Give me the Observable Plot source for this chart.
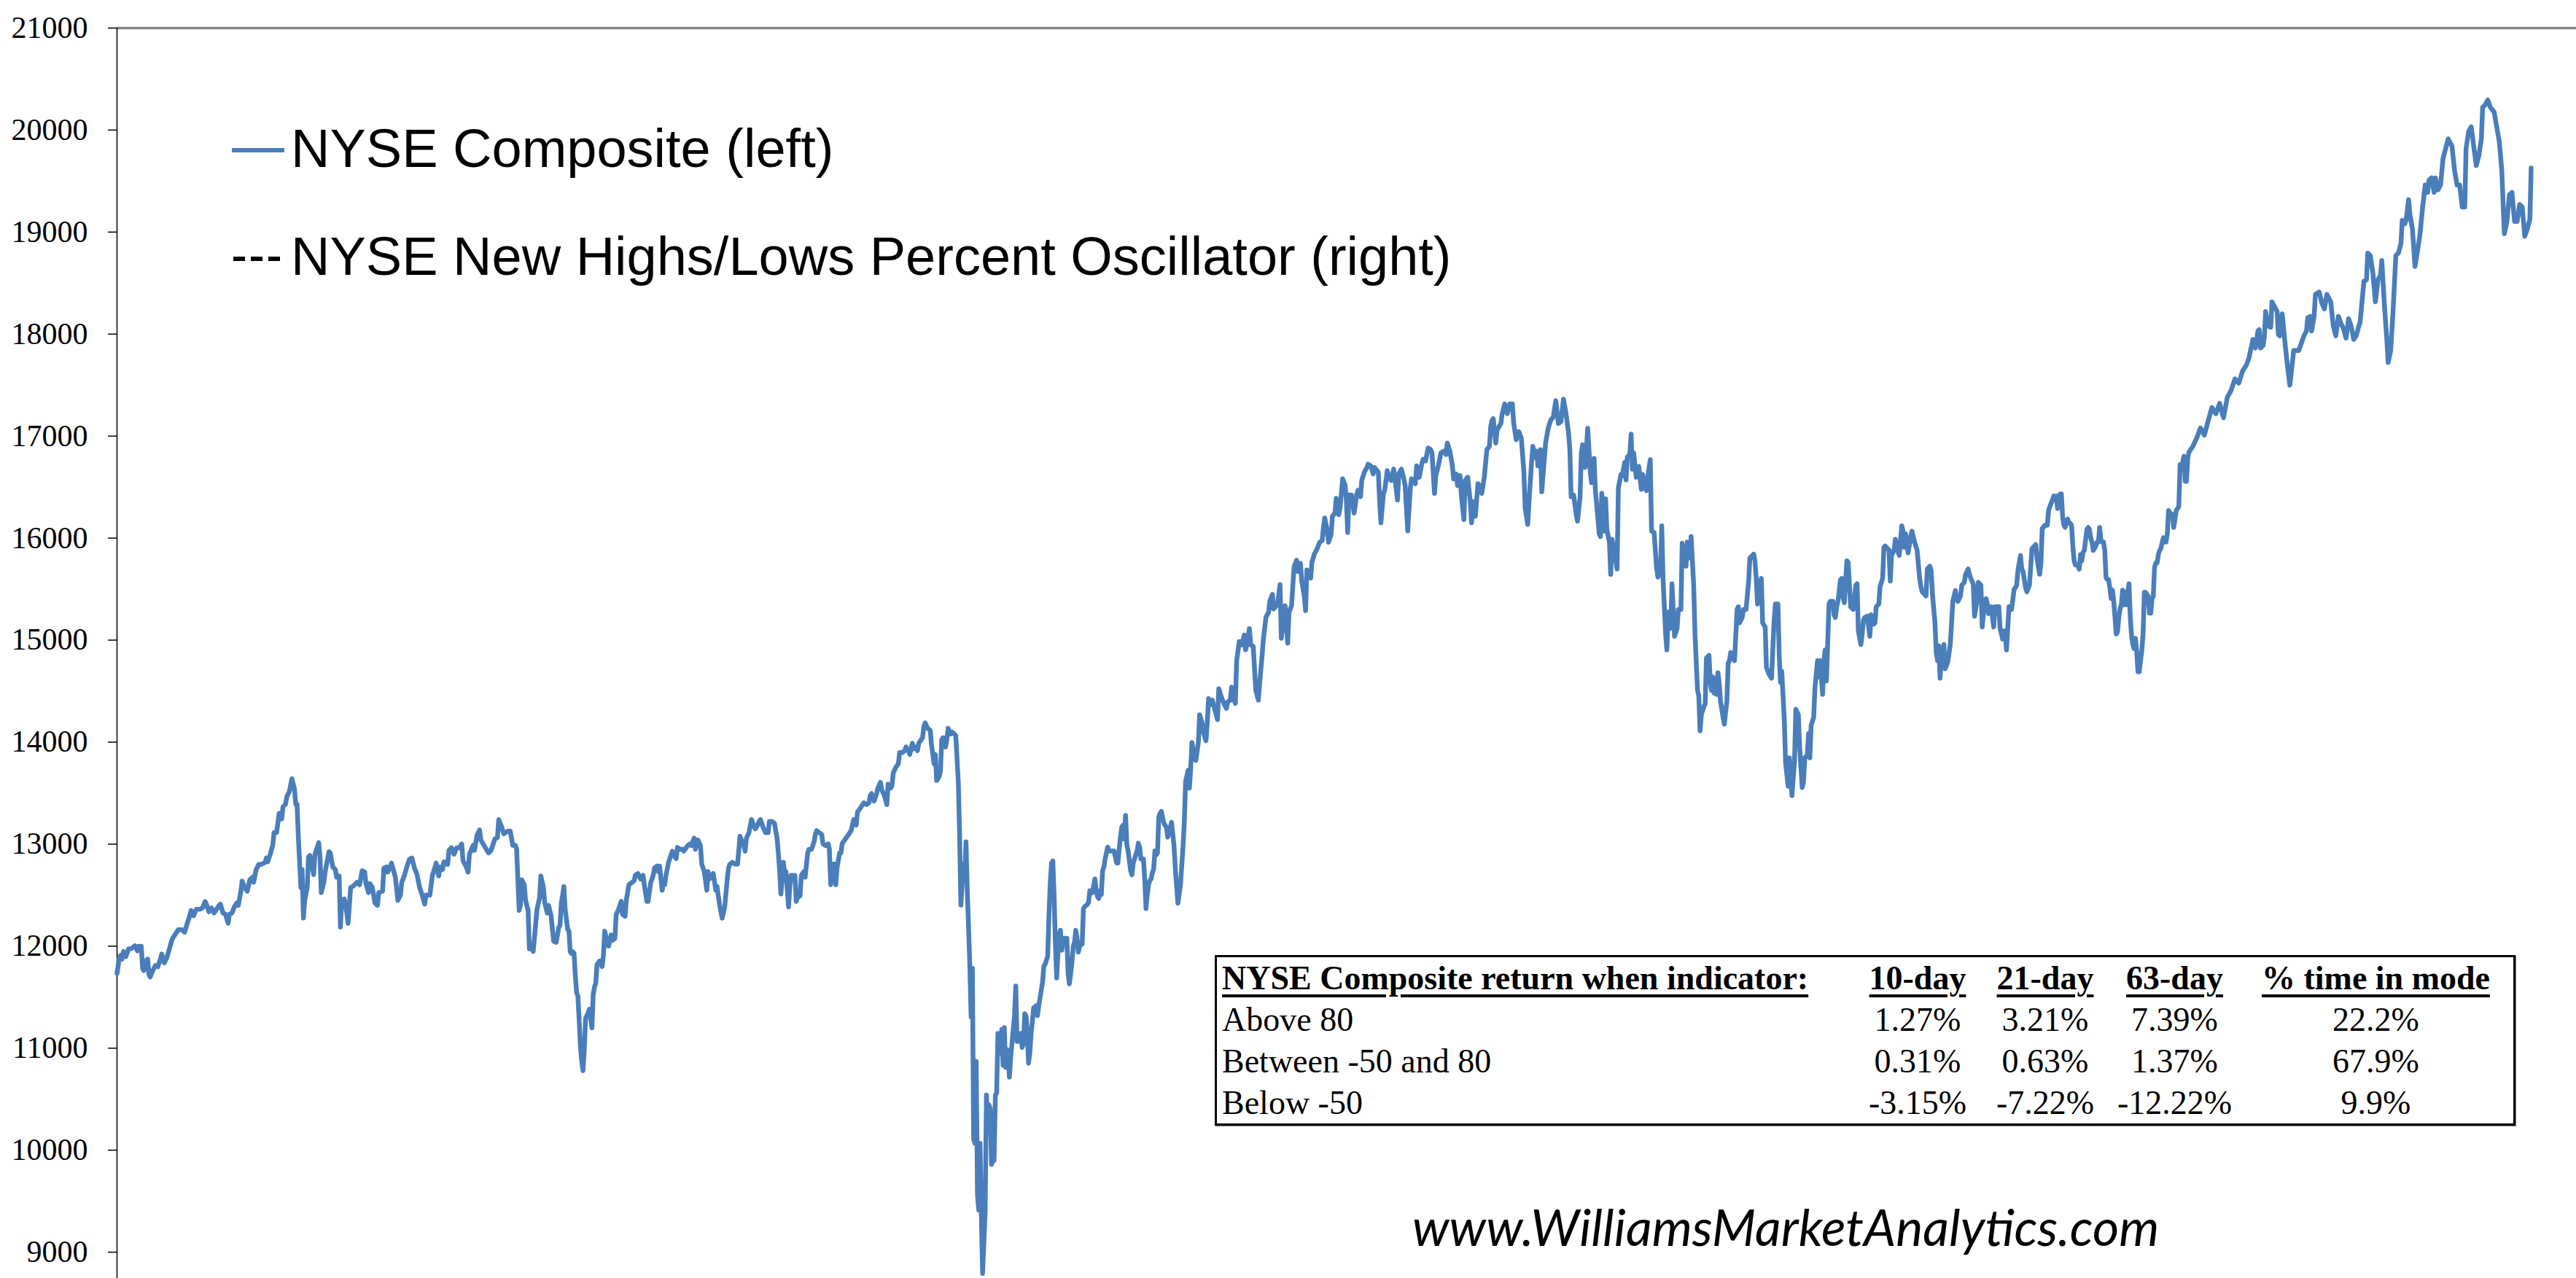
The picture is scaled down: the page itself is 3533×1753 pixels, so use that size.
<!DOCTYPE html>
<html><head><meta charset="utf-8">
<script src="https://cdn.jsdelivr.net/npm/d3@7"></script>
<script src="https://cdn.jsdelivr.net/npm/@observablehq/plot@0.6"></script>
<style>
html,body{margin:0;padding:0;background:#fff;}
#wrap{position:relative;width:3533px;height:1753px;overflow:hidden;background:#fff;}
.leg{position:absolute;left:399px;font-family:"Liberation Sans",Arial,sans-serif;font-size:74px;line-height:74px;color:#000;white-space:nowrap;}
.sw{position:absolute;left:318px;}
#tbl{position:absolute;left:1666px;top:1310px;border:3px solid #000;background:#fff;box-shadow:1px 1px 0 #777;}
#tbl table{border-collapse:collapse;table-layout:fixed;font-family:"Liberation Serif","Times New Roman",serif;font-size:46px;color:#000;}
#tbl td{padding:0;height:57px;line-height:57px;white-space:nowrap;text-align:center;}
#tbl td.first{text-align:left;padding-left:7px;}
#tbl tr.head td{font-weight:bold;}
#tbl tr.head span{text-decoration:underline;text-decoration-thickness:4px;text-underline-offset:7px;}
#wm{position:absolute;left:1937px;top:1642px;font-family:Lato,"Open Sans",sans-serif;font-style:italic;font-size:70px;line-height:80px;color:#000;white-space:nowrap;}
</style></head>
<body><div id="wrap"></div>
<script>
// trading-session index (x) and NYSE Composite close (left axis)
const session = [
0,2,3,4,5,7,9,11,14,16,
17,19,20,21,22,24,25,26,28,30,
32,34,35,37,39,41,43,44,46,48,
51,53,55,57,58,60,62,65,67,69,
70,72,74,76,78,80,81,83,85,87,
88,90,92,94,95,97,98,100,102,104,
106,107,109,111,113,116,117,118,120,122,
123,125,127,128,129,130,132,133,135,137,
139,140,141,142,144,145,146,147,149,150,
151,153,154,155,158,159,160,162,163,166,
167,169,171,172,174,175,176,178,180,181,
183,185,188,190,192,194,195,197,198,200,
202,204,205,208,209,211,212,213,215,218,
220,222,223,225,227,229,231,233,235,237,
239,241,242,245,247,250,252,253,255,256,
259,260,262,264,266,268,270,271,274,275,
276,279,280,282,284,285,288,291,293,296,
298,299,301,303,306,308,310,312,313,315,
316,317,319,320,322,323,324,326,328,329,
331,332,334,335,337,338,340,342,
344,346,347,348,349,350,351,353,354,355,
356,357,358,359,360,361,362,363,364,365,
366,367,369,370,372,373,374,375,376,378,
380,381,382,384,385,387,388,390,391,393,
395,396,398,399,401,403,405,406,408,410,
412,413,415,416,418,420,421,423,424,425,
427,428,429,430,432,433,435,437,438,439,
441,443,444,447,449,450,452,453,455,457,
458,459,460,462,463,464,466,467,469,470,
471,472,474,475,476,478,479,480,482,484,
486,487,488,489,491,492,493,495,497,498,
500,501,503,504,506,508,510,511,513,515,
517,518,519,520,521,522,523,524,526,527,
528,529,531,532,533,535,536,538,539,541,
542,544,546,547,548,550,552,553,555,557,
558,559,561,562,563,564,566,567,568,570,
571,573,575,576,577,579,580,582,584,585,
587,589,590,591,593,595,596,598,599,601,
603,604,606,607,608,610,612,613,615,617,
618,620,621,623,624,626,627,628,630,631,
632,633,635,637,638,640,641,642,644,645,
646,647,649,650,651,653,654,656,657,659,
660,661,663,664,665,666,668,669,670,671,
672,673,674,675,676,677,678,
680,681,682,683,684,685,686,687,688,689,
690,691,692,693,694,695,696,697,698,699,
700,701,702,703,704,705,706,707,708,709,
710,711,712,713,714,715,716,717,718,719,
720,721,722,723,724,725,726,727,728,729,
730,731,732,733,734,735,736,737,738,739,
740,741,742,744,745,746,747,748,749,750,
751,752,753,754,755,756,757,758,760,761,
762,764,766,767,768,769,770,771,772,773,
774,776,777,779,781,782,783,784,785,786,
787,788,789,790,791,792,793,794,795,796,
797,799,800,801,802,803,804,805,806,807,
808,809,810,811,812,813,814,815,816,817,
818,820,821,822,823,
824,826,828,829,831,833,835,836,837,839,
840,841,842,844,845,847,848,850,851,853,
854,855,856,858,860,862,863,865,867,869,
870,872,873,874,876,877,879,881,883,884,
885,887,888,890,892,894,895,897,898,900,
902,903,905,906,909,911,912,915,917,918,
920,921,922,924,925,927,928,930,931,932,
933,935,936,938,940,942,944,945,946,948,
949,951,952,954,955,957,958,960,962,963,
964,965,967,969,971,972,974,975,977,979,
980,982,984,985,988,989,990,992,993,995,
996,998,1000,1001,1003,1004,1006,1008,1009,1011,
1013,1014,1017,1018,1020,1022,1023,1025,1027,1029,
1030,1032,1033,1035,1037,1039,1041,1042,1044,1046,
1047,1049,1050,1052,1053,1055,1056,1058,1060,1061,
1062,1064,1066,1067,1069,1071,1073,1075,1076,1077,
1078,1080,1081,1084,1085,1087,1089,1091,1093,1094,
1096,1098,1100,1102,1103,1105,1106,1108,1109,1111,
1112,1113,1115,1116,1118,1119,1121,1123,1125,1127,
1129,1131,1133,1135,1137,1138,1139,1141,1143,1144,
1146,1147,1148,1150,1152,1154,
1155,1157,1158,1159,1161,1162,1163,1165,1166,1167,
1169,1170,1171,1173,1175,1176,1178,1179,1181,1182,
1183,1185,1186,1187,1188,1190,1192,1194,1195,1197,
1198,1199,1201,1202,1204,1206,1207,1209,1210,1211,
1213,1214,1215,1217,1218,1220,1222,1223,1225,1226,
1227,1229,1230,1232,1233,1235,1236,1238,1239,1240,
1241,1243,1244,1245,1247,1248,1249,1250,1251,1253,
1254,1255,1256,1258,1259,1261,1262,1263,1264,1266,
1267,1269,1270,1271,1273,1274,1276,1278,1279,1280,
1282,1283,1284,1285,1287,1288,1289,1291,1292,1294,
1296,1298,1299,1301,1302,1303,1304,1306,1307,1309,
1310,1312,1314,1315,1317,1318,1320,1321,1322,1324,
1325,1326,1327,1329,1330,1332,1333,1334,1336,1337,
1338,1339,1341,1342,1344,1345,1346,1347,1348,1350,
1351,1352,1353,1355,1356,1357,1358,1360,1362,1363,
1364,1366,1367,1368,1369,1371,1373,1374,1376,1377,
1378,1380,1381,1382,1383,1384,1385,1387,1388,1389,
1390,1392,1393,1395,1396,1398,1399,1400,1401,1403,
1405,1406,1408,1410,1412,1413,1414,1415,1417,1418,
1420,1421,1422,1424,1425,1426,1427,1428,1429,1431,
1432,1434,1436,1437,1438,1440,1441,1442,1444,1445,
1447,1448,1450,1451,1452,1454,1455,1457,1458,1460,
1461,1463,1464,1465,1466,1468,1470,1471,1472,1474,
1475,1477,1478,1479,1480,1482,1483,1484,1486,1487,
1488,1489,1491,1492,1493,1495,1496,1498,1500,1501,
1503,1504,1506,1507,1508,
1509,1510,1512,1513,1514,1516,1517,1518,1519,1520,
1521,1522,1523,1524,1525,1526,1527,1528,1529,1530,
1531,1532,1533,1534,1536,1537,1538,1539,1540,1541,
1542,1543,1544,1545,1546,1547,1548,1549,1550,1551,
1552,1553,1554,1555,1556,1557,1558,1559,1560,1561,
1562,1563,1564,1565,1566,1567,1568,1569,1570,1571,
1572,1573,1574,1575,1576,1577,1578,1579,1580,1581,
1582,1583,1584,1585,1586,1587,1588,1589,1590,1591,
1592,1593,1594,1595,1596,1597,1598,1599,1600,1601,
1602,1603,1604,1605,1606,1607,1608,1610,1611,1612,
1613,1614,1615,1616,1617,1618,1619,1620,1621,1622,
1623,
1626,1629,1632,1635,1638,1641,1644,1647,1650,1653,
1656,1659,1662,1665,
1668,1670,1673,1675,1677,1678,1679,1681,1682,1683,
1685,1687,1688,1690,1692,1693,1694,1696,1698,1700,
1702,1705,1709,1711,1713,1715,1716,1718,1719,1721,
1722,1725,1727,1729,1731,1734,1736,1738,1740,1742,
1744,1746,1748,1750,1752,1754,1756,1757,1760,1762,
1763,1765,1767,1769,1771,1773,1774,1776,1778,1779,
1781,1783,1785,1787,1789,1790,1792,1793,1795,1796,
1798,1800,1802,1804,1806,1808,1810,1811,1813,1815,
1816,1818,1820,1822,1824,1826,1829,1831,1833,1835,
1837,1839,1840,1842,1844,1846,1848,1850,1852,1853,
1855,1857,1859,1862,1864,1866,1868,1870,1872,1874,
1876,1878,1880,1882,1884,1886,1888,1890,1891
];
const nyse = [
11735,11898,11911,11873,11948,11898,11973,11973,12004,11953,
11999,11999,11785,11760,11848,11873,11723,11698,11760,11810,
11798,11873,11923,11836,11886,11973,12061,12086,12124,12162,
12162,12137,12224,12299,12350,12299,12362,12362,12375,12437,
12412,12337,12375,12325,12362,12400,12412,12325,12312,12224,
12312,12325,12387,12425,12400,12538,12638,12575,12538,12650,
12676,12626,12751,12801,12801,12821,12864,12826,12901,12989,
13114,13114,13302,13302,13247,13365,13390,13466,13516,13641,
13541,13390,13390,13077,12575,12751,12275,12450,12575,12876,
12889,12776,12701,12901,13014,12876,12525,12626,12726,12926,
12914,12776,12751,12676,12688,12187,12450,12462,12325,12224,
12575,12588,12626,12601,12739,12726,12613,12525,12613,12575,
12425,12400,12525,12538,12764,12776,12726,12751,12814,12676,
12450,12500,12626,12688,12776,12851,12864,12764,12701,12575,
12500,12412,12500,12500,12688,12814,12688,12776,12751,12826,
12801,12939,12964,12901,12964,12964,13002,12839,12764,12726,
12901,12989,12939,13089,13139,13039,12977,12914,12939,13052,
13064,13240,13177,13102,13127,13127,12989,12989,12951,12350,
12400,12651,12601,12450,12350,11973,12011,11948,12224,12362,
12475,12688,12575,12425,12325,12400,12299,12049,
12037,12183,12202,12420,12493,12585,12366,12165,12147,11946,
11928,11946,11928,11709,11545,11509,11272,11016,10870,10779,
10980,11290,11345,11381,11199,11527,11600,11637,11819,11855,
11800,11910,12147,12037,12001,12110,12056,12074,12311,12366,
12439,12311,12293,12457,12603,12621,12640,12694,12712,12658,
12694,12603,12439,12439,12621,12694,12767,12785,12731,12785,
12548,12621,12603,12694,12822,12858,12931,12877,12858,12968,
12950,12950,12931,12986,13004,12986,13059,12950,13041,12986,
12804,12767,12731,12548,12731,12658,12694,12712,12548,12585,
12493,12402,12274,12329,12384,12658,12767,12804,12822,12804,
12804,12931,13077,13041,12986,12931,13059,13113,13241,13204,
13150,13168,13223,13241,13168,13113,13113,13223,13223,13204,
13059,12913,12749,12512,12658,12822,12694,12731,12384,12585,
12694,12694,12694,12439,12475,12493,12694,12731,12676,12913,
12950,12950,13022,13095,13132,13113,13095,13004,12986,13004,
12950,12603,12804,12804,12603,12767,12913,12913,13004,13041,
13059,13095,13132,13186,13241,13186,13314,13350,13387,13405,
13387,13405,13478,13496,13423,13496,13551,13606,13533,13478,
13387,13588,13551,13569,13697,13752,13788,13897,13897,13916,
13952,13916,13879,13989,13934,13952,13916,13989,14025,14044,
14153,14189,14135,14116,13970,13788,13879,13624,13661,13715,
14025,14044,13952,14025,14135,14080,14098,14080,14062,13606,
13095,12402,12804,12658,13022,12548,11819,11308,11782,10105,
10068,10870,9558,9412,10068,9375,8792,
9393,10541,10191,10444,10405,9860,9899,9899,10541,10560,
11144,11124,10949,11183,10832,11202,10813,10988,10910,10716,
10910,11046,11183,11319,11610,11066,11124,11066,11144,11007,
11046,11338,11319,11163,10852,10949,11144,11261,11397,11338,
11416,11319,11416,11493,11571,11649,11805,11824,11863,11902,
12310,12621,12816,12835,12505,12038,11688,11922,12116,12155,
11960,12038,12077,12077,11727,11630,11727,11844,11999,12038,
12155,12077,11941,11999,12038,12019,12369,12388,12408,12427,
12544,12524,12660,12544,12486,12466,12544,12505,12738,12777,
12855,12971,12933,12933,12933,12874,12816,12816,12952,13069,
13166,13185,13049,13282,12991,12933,12835,12738,12699,12816,
12855,12933,13010,12971,12855,12855,12855,12660,12369,12505,
12602,12641,12660,12719,12758,12933,12894,12913,13263,13302,
13321,13205,13185,13166,13069,
13103,13215,12975,12750,12420,12600,12975,13215,13613,13725,
13550,13741,13996,13837,13821,13996,14268,14188,14093,14013,
14188,14427,14363,14411,14316,14220,14523,14443,14379,14331,
14395,14411,14539,14443,14379,14794,14986,14954,15049,14906,
14954,15113,14954,14938,14507,14411,14571,14858,15018,15225,
15273,15384,15448,15305,15353,15544,15018,15337,14970,15273,
15337,15528,15720,15783,15672,15752,15576,15432,15289,15688,
15624,15608,15767,15847,15895,15959,15975,16103,16198,16071,
15959,16039,16214,16246,16390,16230,16294,16581,16517,16358,
16055,16422,16422,16246,16422,16469,16406,16565,16645,16693,
16725,16709,16629,16693,16645,16358,16150,16438,16469,16661,
16597,16565,16677,16581,16374,16629,16677,16581,16517,16071,
16485,16581,16533,16709,16597,16725,16773,16757,16884,16868,
16836,16438,16613,16709,16836,16852,16820,16932,16852,16709,
16581,16629,16517,16613,16422,16182,16565,16597,16358,16150,
16358,16214,16533,16517,16438,16597,16868,16900,17092,17155,
17171,16932,17060,17124,17219,17315,17219,17315,17315,17124,
16964,17044,16980,16645,16294,16135,16358,16741,16900,16789,
16852,16709,16868,16454,16773,16932,17076,17155,17188,17347,
17124,17140,17363,17219,17028,16868,16406,16422,16230,16166,
16406,16836,16916,16693,17076,16645,
16544,16782,16465,16333,16042,16015,16438,16068,16385,16081,
15962,15645,15989,15856,15698,16491,16624,16610,16743,16571,
16795,16822,17020,16676,16835,16597,16703,16478,16624,16491,
16465,16597,16769,16068,16055,15698,15618,15671,16121,15605,
15063,14904,15275,15116,15552,15037,15116,15301,15301,15949,
15804,15724,15962,15804,16015,15539,15063,14508,14455,14111,
14269,14349,14375,14825,14851,14587,14508,14640,14481,14468,
14680,14574,14402,14243,14177,14402,14772,14799,14878,14825,
14799,15301,15327,15169,15222,15301,15301,15566,15804,15817,
15843,15777,15605,15354,15539,15605,15169,15129,14732,14666,
14627,15195,15354,15354,14851,14587,14693,14217,13793,13568,
13846,13476,13820,14322,14269,13952,13555,13608,13846,13873,
14084,13846,14164,14243,14534,14798,14640,14798,14468,14798,
14904,14600,15354,15380,15380,15248,15222,15327,15380,15592,
15605,15420,15367,15777,15764,15539,15327,15301,15539,15552,
15089,14957,15063,15195,15222,15235,15037,15248,15156,15169,
15327,15354,15526,15565,15605,15909,15923,15896,15883,15579,
15830,15883,15989,15870,15830,16121,16068,15909,16042,15856,
16015,16068,15962,15883,15605,15526,15473,15460,15433,15698,
15724,15684,15460,15169,14878,14799,14944,14626,14798,14957,
14719,14785,14957,15169,15380,15486,15394,15380,15433,15539,
15566,15645,15698,15645,15605,15552,15235,15394,15566,15539,
15129,15393,15407,15354,15261,15327,15129,15327,15327,15327,
15116,15010,15089,15089,14904,15327,15301,15301,15500,15513,
15539,15685,15830,15698,15671,15513,15473,15539,15896,15909,
15936,15790,15645,15751,16094,
16105,16126,16126,16270,16310,16372,16413,16393,16413,16290,
16372,16434,16434,16208,16126,16105,16167,16187,16146,16146,
16126,15921,15777,15736,15736,15695,15838,15777,15859,15880,
15982,16085,16105,16085,16003,15962,15880,15900,15921,15962,
15962,16105,15982,15962,15962,15880,15613,15593,15593,15511,
15408,15490,15388,15223,15059,15080,15223,15305,15347,15490,
15347,15470,15347,15470,15552,15223,15039,14957,14916,15018,
14895,14690,14690,14793,14895,15059,15469,15469,15449,15429,
15264,15264,15408,15429,15716,15757,15757,15839,15880,15900,
15962,16003,15962,15962,16044,16270,16249,16229,16105,16187,
16270,16290,16311,16721,16721,16741,16803,16557,16557,16782,
16844,
16900,16980,17080,17010,17150,17280,17220,17320,17180,17380,
17450,17560,17520,17640,
17698,17769,17948,17864,18031,18043,17864,17888,17972,18222,
18079,18067,18317,18269,18222,17995,17983,18198,17936,17698,
17500,17840,17840,17912,17983,18031,18162,18174,18031,18174,
18389,18412,18305,18246,18389,18317,18079,17983,18174,18103,
18055,17960,18150,18079,17948,17983,18079,18114,18519,18531,
18794,18770,18603,18317,18531,18579,18722,18293,17936,17721,
17840,18269,18770,18794,18889,19115,19080,19115,19318,19175,
19032,18663,18817,18984,19246,19461,19389,19509,19532,19389,
19532,19413,19461,19723,19818,19914,19842,19604,19461,19461,
19246,19246,19818,19985,20033,19842,19652,19747,19914,20224,
20247,20295,20224,20176,20033,19890,19604,18984,19104,19366,
19389,19104,19104,19270,19246,18960,19032,19127,19628
];
const yTicks = [9000,10000,11000,12000,13000,14000,15000,16000,17000,18000,19000,20000,21000];
const legendLabels = ["NYSE Composite (left)", "NYSE New Highs/Lows Percent Oscillator (right)"];
const tableHeader = ["NYSE Composite return when indicator:", "10-day", "21-day", "63-day", "% time in mode"];
const tableRows = [
  ["Above 80", "1.27%", "3.21%", "7.39%", "22.2%"],
  ["Between -50 and 80", "0.31%", "0.63%", "1.37%", "67.9%"],
  ["Below -50", "-3.15%", "-7.22%", "-12.22%", "9.9%"]
];
const watermark = "www.WilliamsMarketAnalytics.com";

if (session.length !== nyse.length) console.error("length mismatch", session.length, nyse.length);
const rows = session.map((s, i) => ({session: s, value: nyse[i]}));
const lineColor = "#4A7EBB";

const chart = Plot.plot({
  width: 3533, height: 1753,
  marginLeft: 160, marginRight: 0, marginTop: 38, marginBottom: 0,
  style: {fontFamily: '"Liberation Serif","Times New Roman",serif', fontSize: "42px", color: "#000", background: "#fff", overflow: "hidden"},
  x: {domain: [0, 1891], range: [160, 3471], axis: null},
  y: {domain: [8000, 21000], range: [1857, 38], axis: null},
  marks: [
    Plot.ruleY([21000], {stroke: "#868686", strokeWidth: 3.5}),
    Plot.ruleX([0], {stroke: "#000", strokeWidth: 1.5}),
    Plot.axisY({ticks: yTicks, tickSize: 12, tickPadding: 28, tickFormat: d3.format("d"), label: null, strokeWidth: 1.5}),
    Plot.line(rows, {x: "session", y: "value", stroke: lineColor, strokeWidth: 6.5})
  ]
});
const wrap = document.getElementById("wrap");
wrap.appendChild(chart);

// legend
const sw1 = document.createElementNS("http://www.w3.org/2000/svg", "svg");
sw1.setAttribute("class", "sw"); sw1.setAttribute("width", 74); sw1.setAttribute("height", 20);
sw1.style.top = "196px";
sw1.innerHTML = `<line x1="0" y1="10" x2="72" y2="10" stroke="${lineColor}" stroke-width="6"/>`;
wrap.appendChild(sw1);
const sw2 = document.createElementNS("http://www.w3.org/2000/svg", "svg");
sw2.setAttribute("class", "sw"); sw2.setAttribute("width", 74); sw2.setAttribute("height", 20);
sw2.style.top = "345px";
sw2.innerHTML = `<line x1="2" y1="10" x2="68" y2="10" stroke="#000" stroke-width="6" stroke-dasharray="16 8"/>`;
wrap.appendChild(sw2);
legendLabels.forEach((t, i) => {
  const d = document.createElement("div");
  d.className = "leg"; d.textContent = t;
  d.style.top = (i === 0 ? 167 : 315) + "px";
  wrap.appendChild(d);
});

// statistics table
const tbl = document.createElement("div");
tbl.id = "tbl";
const colW = [876, 170, 180, 175, 377];
let html = "<table style='width:" + d3.sum(colW) + "px'><colgroup>" + colW.map(w => `<col style="width:${w}px">`).join("") + "</colgroup>";
html += "<tr class='head'>" + tableHeader.map((h, j) => `<td class="${j === 0 ? "first" : ""}"><span>${h}</span></td>`).join("") + "</tr>";
tableRows.forEach(r => {
  html += "<tr>" + r.map((c, j) => `<td class="${j === 0 ? "first" : ""}">${c}</td>`).join("") + "</tr>";
});
html += "</table>";
tbl.innerHTML = html;
wrap.appendChild(tbl);

// watermark
const wm = document.createElement("div");
wm.id = "wm"; wm.textContent = watermark;
wrap.appendChild(wm);
</script>
</body></html>
